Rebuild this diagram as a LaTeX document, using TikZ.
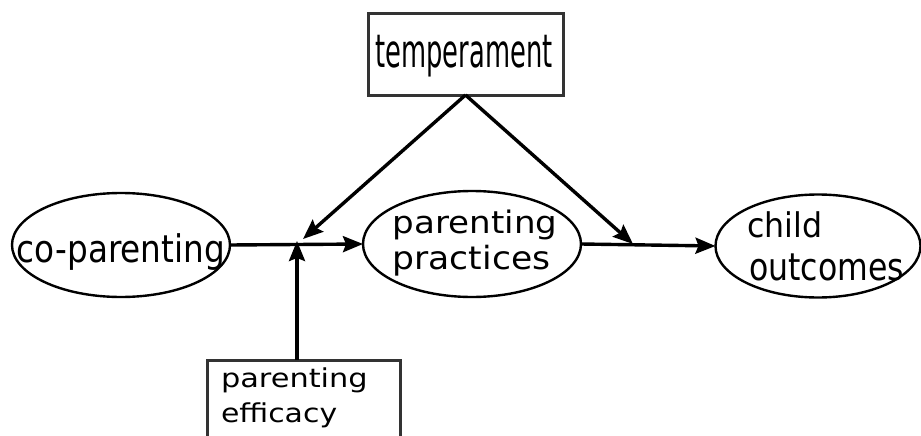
\documentclass[tikz,border=0pt]{standalone}
\usepackage{fontspec}
\usepackage{graphicx}
\setmainfont{DejaVu Sans}
\usetikzlibrary{shapes.geometric,arrows.meta}
\begin{document}
\begin{tikzpicture}[x=1pt,y=-1pt,
  box/.style={draw=black!80,line width=3pt,rectangle,inner sep=0pt,outer sep=0pt},
  oval/.style={draw,line width=2.4pt,ellipse,inner sep=0pt,outer sep=0pt},
  lbl/.style={anchor=base,inner sep=0pt,outer sep=0pt},
  lblw/.style={anchor=base west,inner sep=0pt,outer sep=0pt},
  link/.style={line width=3.4pt,-{Stealth[length=20pt,width=16pt,inset=3pt]}},
]
\clip (0,0) rectangle (921,436);
\fill[white] (0,0) rectangle (921,436);

% shapes
\node[box,minimum width=195pt,minimum height=81pt] (temp) at (465.5,54.5) {};
\node[oval,minimum width=218pt,minimum height=104pt] (cop) at (121,245) {};
\node[oval,minimum width=218pt,minimum height=106pt] (pp) at (472,244) {};
\node[oval,minimum width=205pt,minimum height=103pt] (co) at (818,246) {};
\node[box,minimum width=193pt,minimum height=120pt] (eff) at (303.5,420) {};

% labels
\node[lbl,font=\fontsize{46}{50}\selectfont] (tempText) at (464,68) {\scalebox{0.56}[1]{temperament}};
\node[lbl,font=\fontsize{38}{42}\selectfont] (copText) at (121,262) {\scalebox{0.86}[1]{co-parenting}};
\node[lbl,font=\fontsize{31}{35}\selectfont] (ppTextA) at (475,233) {\scalebox{1.1}[1]{parenting}};
\node[lbl,font=\fontsize{32}{36}\selectfont] (ppTextB) at (471.5,269) {\scalebox{1.08}[1]{practices}};
\node[lblw,font=\fontsize{34}{38}\selectfont] (coTextA) at (747,237) {\scalebox{0.93}[1]{child}};
\node[lblw,font=\fontsize{38}{42}\selectfont] (coTextB) at (749,280) {\scalebox{0.83}[1]{outcomes}};
\node[lblw,font=\fontsize{26}{30}\selectfont] (effTextA) at (221,387) {\scalebox{1.17}[1]{parenting}};
\node[lblw,font=\fontsize{26}{30}\selectfont] (effTextB) at (221,422) {\scalebox{1.15}[1]{efficacy}};

% moderation points on the paths
\coordinate (jA) at (297,241);
\coordinate (jT) at (303,239);
\coordinate (jB) at (633,244);

% connectors
\draw[link] (cop.east) -- (pp.west);
\draw[link] (pp.east) -- (co.west);
\draw[link] (eff.north -| jA) -- (jA);
\draw[link] (temp.south) -- (jT);
\draw[link] (temp.south) -- (jB);
\end{tikzpicture}
\end{document}
